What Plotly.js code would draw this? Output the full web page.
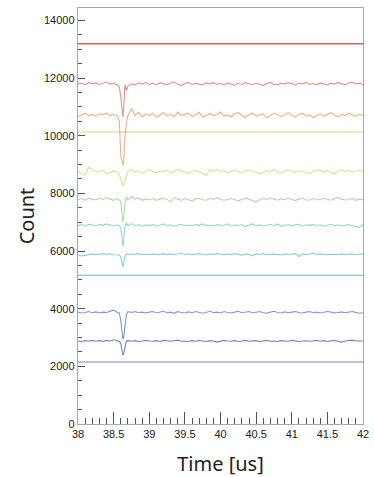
<!DOCTYPE html>
<html>
<head>
<meta charset="utf-8">
<script src="https://cdn.plot.ly/plotly-3.0.1.min.js"></script>
<style>html,body{margin:0;padding:0;background:#fff;}#chart{width:374px;height:477px;}</style>
</head>
<body>
<div id="chart"></div>
<script>
// Time axis samples [us]
const time = [38.00,38.05,38.10,38.15,38.20,38.25,38.30,38.35,38.40,38.45,38.50,38.55,
  38.58,38.60,38.62,38.63,38.64,38.66,38.68,38.70,
  38.75,38.80,38.85,38.90,38.95,
  39.00,39.05,39.10,39.15,39.20,39.25,39.30,39.35,39.40,39.45,
  39.50,39.55,39.60,39.65,39.70,39.75,39.80,39.85,39.90,39.95,
  40.00,40.05,40.10,40.15,40.20,40.25,40.30,40.35,40.40,40.45,
  40.50,40.55,40.60,40.65,40.70,40.75,40.80,40.85,40.90,40.95,
  41.00,41.05,41.10,41.15,41.20,41.25,41.30,41.35,41.40,41.45,
  41.50,41.55,41.60,41.65,41.70,41.75,41.80,41.85,41.90,41.95,42.00];

const flatTime = [38, 42];
const flatLevels = [13190, 10130, 5160, 2150];

const countRed = [11790,11820,11770,11850,11800,11830,11780,11810,11860,11790,11820,11760,
  11700,11350,10700,10650,10900,11780,11560,11720,
  11800,11760,11830,11790,11850,
  11780,11820,11760,11840,11800,11770,11830,11860,11790,11740,
  11810,11850,11780,11820,11790,11760,11830,11800,11840,11790,
  11810,11770,11830,11800,11750,11820,11780,11840,11800,11770,
  11820,11790,11740,11810,11850,11780,11760,11820,11800,11840,
  11790,11760,11820,11800,11850,11780,11810,11770,11830,11800,
  11760,11820,11790,11840,11800,11770,11830,11860,11800,11820,11780];

const countOrange = [10650,10720,10780,10700,10740,10680,10760,10720,10790,10700,10740,10680,
  10500,9300,9000,8990,9020,10000,10450,10700,
  10950,10700,10820,10650,10760,
  10700,10780,10640,10720,10800,10690,10750,10660,10820,10700,
  10740,10780,10680,10720,10810,10650,10700,10770,10690,10740,
  10820,10680,10720,10650,10760,10800,10700,10640,10730,10790,
  10680,10720,10760,10620,10700,10780,10740,10660,10720,10800,
  10700,10650,10740,10780,10690,10720,10630,10700,10760,10680,
  10740,10800,10710,10650,10740,10690,10780,10720,10660,10750,10700];

const countYellowGreen = [8780,8680,8650,8900,8820,8760,8740,8800,8680,8720,8780,8740,
  8650,8500,8330,8280,8300,8480,8650,8760,
  8820,8740,8790,8700,8760,
  8820,8760,8700,8780,8740,8800,8720,8760,8830,8780,
  8740,8690,8760,8800,8740,8700,8620,8820,8780,8840,
  8760,8790,8720,8760,8810,8750,8700,8780,8820,8760,
  8740,8680,8720,8800,8760,8830,8740,8700,8780,8820,
  8760,8720,8790,8750,8700,8680,8760,8820,8780,8740,
  8800,8720,8680,8780,8820,8760,8800,8740,8770,8810,8760];

const countGreen = [7780,7820,7760,7840,7800,7770,7830,7790,7850,7800,7760,7820,
  7780,7700,7200,7000,7150,7650,7880,7760,
  7900,7800,7840,7760,7800,
  7780,7820,7760,7800,7840,7790,7700,7850,7800,7760,
  7820,7780,7740,7800,7830,7780,7760,7820,7800,7850,
  7790,7760,7800,7820,7780,7740,7790,7830,7800,7760,
  7700,7780,7820,7790,7840,7800,7760,7810,7780,7830,
  7790,7750,7800,7840,7780,7760,7820,7800,7770,7830,
  7790,7760,7810,7850,7800,7770,7790,7820,7760,7800,7780];

const countTeal = [6880,6920,6870,6930,6900,6870,6920,6890,6940,6900,6870,6910,
  6880,6820,6400,6150,6400,6850,6960,6880,
  6950,6880,6920,6860,6900,
  6890,6920,6870,6900,6940,6880,6910,6860,6900,6930,
  6880,6900,6870,6920,6890,6940,6880,6900,6860,6920,
  6890,6900,6940,6870,6910,6880,6920,6850,6900,6940,
  6880,6910,6870,6900,6920,6880,6940,6860,6900,6920,
  6880,6900,6930,6870,6900,6890,6920,6880,6910,6860,
  6900,6930,6880,6910,6870,6900,6920,6880,6840,6820,6920];

const countCyan = [5870,5830,5850,5880,5900,5870,5890,5910,5880,5900,5870,5880,
  5860,5800,5550,5450,5560,5820,5900,5870,
  5900,5880,5910,5870,5890,
  5880,5900,5870,5890,5910,5880,5900,5870,5890,5920,
  5880,5900,5870,5890,5910,5880,5860,5900,5880,5910,
  5890,5870,5900,5880,5910,5890,5860,5900,5880,5830,
  5900,5880,5910,5870,5890,5900,5880,5860,5900,5880,
  5890,5910,5810,5900,5870,5890,5920,5880,5900,5870,
  5880,5900,5890,5870,5900,5880,5890,5900,5870,5890,5900];

const countBlue = [3880,3850,3870,3900,3860,3890,3850,3880,3870,3900,3950,3880,
  3850,3600,3100,2950,2980,3400,3800,3900,
  3870,3900,3860,3880,3850,
  3880,3900,3850,3870,3910,3860,3880,3840,3900,3870,
  3850,3890,3860,3900,3880,3840,3870,3920,3860,3880,
  3850,3900,3870,3850,3880,3910,3860,3870,3900,3850,
  3880,3900,3860,3840,3880,3910,3870,3850,3890,3860,
  3880,3900,3870,3850,3880,3900,3860,3880,3850,3870,
  3900,3880,3850,3870,3890,3860,3880,3900,3870,3840,3860];

const countDarkBlue = [2880,2860,2890,2870,2900,2870,2890,2860,2900,2880,2920,2870,
  2860,2800,2550,2400,2420,2700,2880,2890,
  2870,2890,2860,2880,2900,
  2880,2870,2890,2860,2900,2880,2870,2890,2910,2870,
  2880,2860,2890,2870,2900,2880,2860,2890,2880,2840,
  2870,2900,2880,2870,2890,2860,2880,2900,2870,2880,
  2890,2860,2880,2900,2870,2880,2860,2890,2880,2870,
  2900,2880,2860,2880,2890,2870,2880,2900,2870,2890,
  2860,2880,2900,2870,2840,2880,2900,2910,2880,2870,2880];

const traceSeries = [countRed, countOrange, countYellowGreen, countGreen, countTeal, countCyan, countBlue, countDarkBlue];
const traceColors = ['rgb(228,96,78)','rgb(238,140,80)','rgb(185,222,100)','rgb(140,205,120)','rgb(100,200,170)','rgb(80,185,212)','rgb(70,110,200)','rgb(60,80,170)'];
const flatColors = ['rgb(216,96,92)','rgb(240,222,165)','rgb(150,205,235)','rgb(168,168,212)'];

const data = [];
flatLevels.forEach((lv, i) => {
  data.push({x: flatTime, y: [lv, lv], type: 'scatter', mode: 'lines',
    line: {color: flatColors[i], width: 1.4}, hoverinfo: 'skip'});
});
traceSeries.forEach((s, i) => {
  data.push({x: time, y: s, type: 'scatter', mode: 'lines',
    line: {color: traceColors[i], width: 1.1}, opacity: 0.7});
});

const tickFont = {family: 'Liberation Sans, Arial, sans-serif', size: 11, color: '#222'};
const layout = {
  width: 374, height: 477,
  margin: {l: 78, r: 11, t: 8, b: 53},
  paper_bgcolor: '#fff', plot_bgcolor: '#fff',
  showlegend: false,
  xaxis: {
    range: [38, 42], tick0: 38, dtick: 0.5,
    ticks: 'inside', ticklen: 12, tickcolor: '#555', tickwidth: 1,
    minor: {dtick: 0.1, ticks: 'inside', ticklen: 6, tickcolor: '#555'},
    showline: true, linecolor: '#aaa', linewidth: 1.2, mirror: true,
    showgrid: false, zeroline: false,
    tickfont: tickFont,
    title: {text: 'Time [us]', font: {family: 'Noto Sans, sans-serif', size: 20, color: '#222'}, standoff: 18}
  },
  yaxis: {
    range: [0, 14430], tick0: 0, dtick: 2000, tickformat: 'd',
    ticks: 'inside', ticklen: 7, tickcolor: '#555', tickwidth: 1,
    minor: {dtick: 500, ticks: 'inside', ticklen: 3.5, tickcolor: '#555'},
    showline: true, linecolor: '#aaa', linewidth: 1.2, mirror: true,
    showgrid: false, zeroline: false,
    tickfont: tickFont,
    title: {text: 'Count', font: {family: 'Noto Sans, sans-serif', size: 20, color: '#222'}, standoff: 4}
  }
};
Plotly.newPlot('chart', data, layout, {displayModeBar: false, staticPlot: true});
</script>
</body>
</html>
